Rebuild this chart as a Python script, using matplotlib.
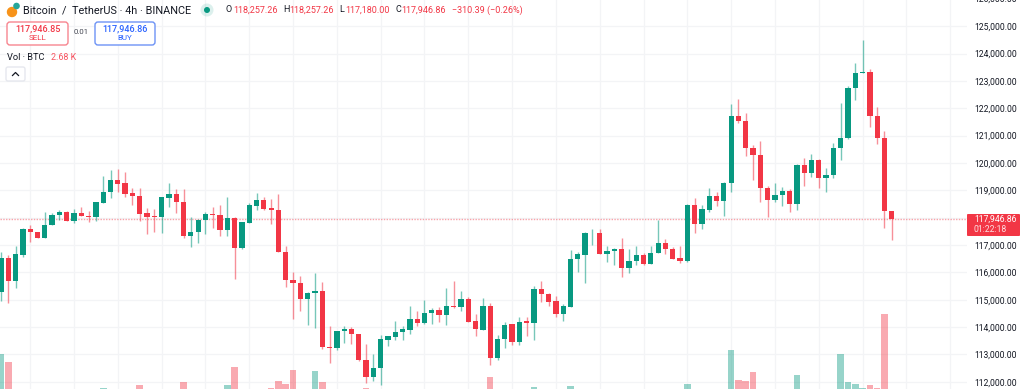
import matplotlib
matplotlib.use('Agg')
import matplotlib.pyplot as plt
from matplotlib.patches import FancyBboxPatch, Circle
from matplotlib.transforms import blended_transform_factory

plt.rcParams['font.family'] = 'Roboto'

opens = [115269,116512,115695,116634,117585,117475,117268,117731,118109,118194,117877,118158,118072,118036,118548,118926,
    119389,119255,118889,118804,118158,118048,118024,118730,118865,118572,117341,117487,117926,118133,118097,117548,
    117975,116878,117816,118438,118645,118340,118280,116756,115732,115610,115037,115256,115317,113269,113245,113842,
    113940,113732,112794,112160,112489,113537,113635,113806,113903,114281,114159,114513,114610,114427,114769,114720,
    115012,114208,113903,114781,112867,113562,114098,113440,114208,114159,115378,115220,114939,114488,114744,116475,
    116646,117426,117450,116682,116768,116865,116158,116414,116634,116317,116707,117072,116853,116512,116402,118460,
    117765,118290,118802,118619,119277,121727,121532,120557,120301,119070,118655,118838,118960,118485,119911,119630,
    120106,119460,119545,120545,120898,122739,123288,123324,121715,120923,118257.26]
highs = [116756,116634,116963,117621,117719,117490,118206,118182,118280,118255,118316,118401,118255,118572,119523,119742,
    119779,119669,119072,119072,118340,118316,118767,119255,119035,119035,118011,117950,118219,118401,118462,118767,
    118011,117840,118523,118901,118743,118670,118865,116963,115999,115878,115293,115988,115646,114050,113867,114025,
    114001,113745,113379,113013,113696,113684,114220,114037,114756,114574,114976,114683,114720,115427,115683,115305,
    115085,114476,115049,114866,113708,114196,114110,114378,114366,115488,115683,115232,115146,114842,116804,116756,
    117475,117584,117584,116951,116902,117243,116853,116951,116707,116951,117914,117219,116914,116963,118486,118704,
    118460,119094,118923,119290,122154,122337,121813,120654,120788,119155,119253,119131,119033,119947,120167,120313,
    120155,119801,120715,122203,122824,123665,124494,123422,122032,121179,118257.26]
lows = [114964,114866,115439,116573,117121,117250,117250,117719,117914,117865,117816,118060,117853,117877,118530,118706,
    118950,118767,118462,117877,117414,117475,117451,118401,118158,117243,116939,117085,117402,117633,117341,117341,
    115768,116866,117792,118280,118280,117780,116744,115476,114281,114598,114074,113952,113184,112696,113160,113428,
    113391,112757,111953,112038,111867,113306,113513,113525,113757,114037,114098,114098,114184,114074,114708,114574,
    114184,113671,113891,112611,112782,113245,113354,113330,113671,113525,114903,114769,114366,114220,114732,116012,
    115597,117012,116670,116365,116280,115829,115975,116280,116268,116305,116695,116670,116475,116329,116390,117448,
    117583,118204,118424,118058,118948,121459,120264,119375,118582,118034,118582,118424,118192,118265,119167,119472,
    119082,118923,119435,120106,120880,122300,123270,121313,120691,117619,117180.00]
closes = [116512,115695,116658,117597,117463,117268,117743,118109,118194,117877,118158,118072,118036,118560,118926,119389,
    119243,118877,118804,118145,118036,118030,118743,118865,118572,117341,117487,117926,118133,118084,117548,117975,
    116878,117828,118450,118645,118328,118267,116756,115732,115598,115037,115256,115317,113269,113233,113855,113940,
    113732,112782,112160,112501,113549,113659,113818,113927,114281,114159,114525,114610,114439,114769,114720,115012,
    114196,113915,114781,112867,113562,114086,113440,114196,114159,115378,115207,114927,114488,114756,116487,116658,
    117426,117450,116682,116780,116865,116170,116426,116634,116317,116719,117072,116853,116487,116402,118474,117778,
    118302,118802,118619,119277,121727,121520,120545,120301,119070,118655,118838,118960,118485,119911,119630,120106,
    119460,119545,120545,120898,122751,123300,123312,121715,120923,118229,117946.86]

vol_bars = [0,1,14,19,25,31,32,37,38,39,40,43,44,50,67,73,78,94,100,101,102,103,109,115,116,117,118,119,120,121,122]
vol_k = [10.5,8.9,3.5,4.1,4.7,4.1,7.8,3.5,4.9,4.3,7.2,7.0,4.7,3.5,5.8,3.7,3.9,4.3,11.3,5.2,4.9,6.8,6.2,10.5,4.7,4.3,3.5,4.1,3.5,18.8,2.68]

price_ticks = list(range(112000, 126000, 1000))
last_price = 117946.86

GREEN = '#089981'
RED = '#f23645'
W, H = 1024, 389
fig = plt.figure(figsize=(W/100, H/100), dpi=100, facecolor='white')

ax = fig.add_axes([0, 0, 967/W, 1], zorder=2)
vol_ax = fig.add_axes([0, 0, 967/W, 1], zorder=3)

xs = list(range(len(opens)))
cols = [GREEN if c >= o else RED for o, c in zip(opens, closes)]
xlim = (-0.137, 132.3)

vol_cols = [GREEN if closes[i] >= opens[i] else RED for i in vol_bars]
vol_ax.bar(vol_bars, vol_k, width=0.9, color=vol_cols, alpha=0.42, linewidth=0)
vol_ax.set_xlim(xlim)
vol_ax.set_ylim(3.3, 83.5)
vol_ax.axis('off')

ax.vlines(xs, lows, highs, colors=cols, linewidth=1, alpha=0.55, zorder=3)
ax.bar(xs, [abs(c - o) for o, c in zip(opens, closes)], bottom=[min(o, c) for o, c in zip(opens, closes)],
       width=0.72, color=cols, linewidth=0, zorder=4)
ax.axhline(last_price, color=RED, alpha=0.45, linewidth=1, linestyle=(0, (1, 1)), zorder=2)

ax.set_xlim(xlim)
ax.set_ylim(111735, 125957)
ax.set_xticks(range(4, 133, 6))
ax.set_yticks(price_ticks)
ax.set_yticklabels([f'{p:,.2f}' for p in price_ticks])
ax.yaxis.tick_right()
ax.tick_params(axis='y', length=0, pad=5, labelsize=6.2, labelcolor='#131722')
ax.tick_params(axis='x', length=0, labelbottom=False)
ax.grid(True, color='#f3f4f6', linewidth=0.9, zorder=0)
ax.set_axisbelow(True)
for s in ax.spines.values():
    s.set_visible(False)

# 126,000 only just shows at the very top edge
trans = blended_transform_factory(ax.transAxes, ax.transData)
ax.text(974/967, 126000, '126,000.00', transform=trans, fontsize=6.2, color='#131722', va='center', clip_on=False)


def fx(x):
    return x / W


def fy(y):
    return 1 - y / H


def box(x0, y0, x1, y1, edge, face='white', lw=1.0, r=3):
    p = FancyBboxPatch((x0, H - y1), x1 - x0, y1 - y0, boxstyle=f'round,pad=0,rounding_size={r}',
                       edgecolor=edge, facecolor=face, linewidth=lw, transform=None, zorder=5)
    # transform=None means pixel coords of the figure
    fig.add_artist(p)


# price label on the axis
box(967, 214, 1020, 236, RED, RED, lw=0, r=1)
fig.text(fx(974), fy(219.5), f'{last_price:,.2f}', color='white', fontsize=6.2, va='center', zorder=6)
fig.text(fx(974), fy(230), '01:22:18', color='#fde0e2', fontsize=6.2, va='center', zorder=6)

# header
fig.add_artist(Circle((12, H - 12), 4.5, color='#f7931a', transform=None, zorder=6))
fig.add_artist(Circle((16.5, H - 6), 2.6, color='#26a69a', transform=None, zorder=6))
fig.text(fx(23), fy(10), 'Bitcoin  /  TetherUS · 4h · BINANCE', color='#131722', fontsize=7.8, va='center', zorder=6)
fig.add_artist(Circle((207, H - 10), 6.5, color='#089981', alpha=0.14, linewidth=0, transform=None, zorder=6))
fig.add_artist(Circle((207, H - 10), 3, color='#089981', linewidth=0, transform=None, zorder=6))

ohlc_x = [225, 233, 283, 289, 339, 345, 395, 401, 452]
ohlc_txt = ['O', '118,257.26', 'H', '118,257.26', 'L', '117,180.00', 'C', '117,946.86', '−310.39 (−0.26%)']
for x, t in zip(ohlc_x, ohlc_txt):
    c = '#131722' if len(t) == 1 else RED
    fig.text(fx(x), fy(10), t, color=c, fontsize=6.5, va='center', zorder=6)

box(7, 22, 68, 45, '#f7858f')
fig.text(fx(37.5), fy(28.5), '117,946.85', color=RED, fontsize=6.5, ha='center', va='center', fontweight='medium', zorder=6)
fig.text(fx(37.5), fy(38.5), 'SELL', color=RED, fontsize=5.8, ha='center', va='center', zorder=6)
fig.text(fx(81), fy(32.5), '0.01', color='#434651', fontsize=5.6, ha='center', va='center', zorder=6)
box(95, 22, 155, 45, '#6d93f5')
fig.text(fx(125), fy(28.5), '117,946.86', color='#2962ff', fontsize=6.5, ha='center', va='center', fontweight='medium', zorder=6)
fig.text(fx(125), fy(38.5), 'BUY', color='#2962ff', fontsize=5.8, ha='center', va='center', zorder=6)

fig.text(fx(7), fy(57), 'Vol · BTC', color='#131722', fontsize=6.7, va='center', zorder=6)
fig.text(fx(51), fy(57), '2.68 K', color='#f7525f', fontsize=6.4, va='center', zorder=6)
box(6, 67, 25, 81, '#e6e8ee', r=2)
fig.add_artist(plt.Line2D([fx(12.5), fx(15.5), fx(18.5)], [fy(75.5), fy(72.5), fy(75.5)], color='#131722', linewidth=0.9, zorder=6))

fig.savefig('out.png', dpi=100)
